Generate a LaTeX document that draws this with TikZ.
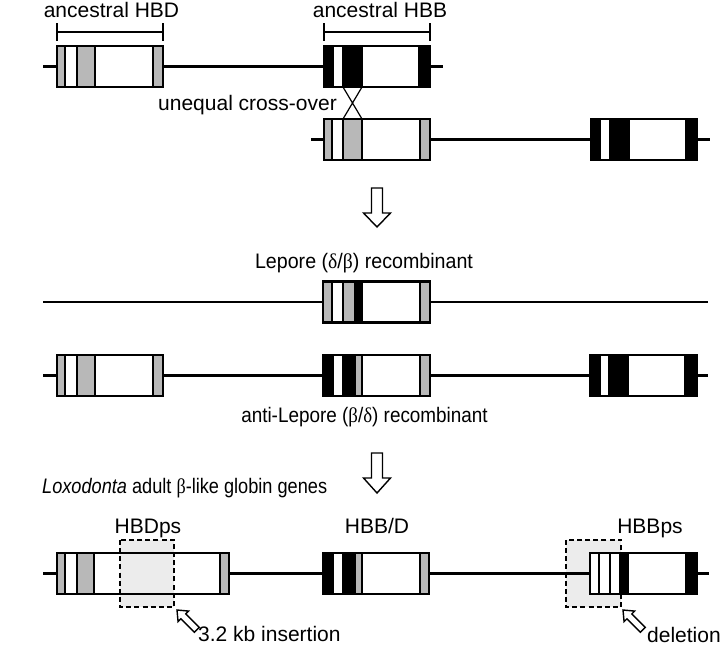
\documentclass[tikz,border=0pt]{standalone}
\usepackage{graphicx}
\usepackage{fontspec}
\setmainfont{Liberation Sans}
\newfontfamily\grk{Liberation Serif}
\definecolor{gr}{gray}{0.72}
\definecolor{lgr}{gray}{0.925}
\newcommand\rt{0}
\newcommand\rb{0}
\newcommand\setrow[1]{\renewcommand\rt{#1-20.5}\renewcommand\rb{#1+20.5}}
\newcommand\sg[3]{\filldraw[segline,fill=#3] (#1,\rt) rectangle (#2,\rb);}
\newcommand\lfont{\fontsize{21}{25}\selectfont}
\begin{document}
\begin{tikzpicture}[x=1pt,y=-1pt,
  segline/.style={draw=black,line width=1.2pt},
  genebox/.style={draw,line width=2.5pt,inner sep=0,minimum height=41pt,rectangle},
  wire/.style={line width=2.7pt},
  lbl/.style={inner sep=0,font=\lfont},
  hollow/.style={draw,fill=white,line width=1.4pt,line join=miter},
  dashbox/.style={draw=none,fill=lgr,inner sep=0,rectangle},
  dashedge/.style={line width=1.8pt,dash pattern=on 5pt off 3.2pt}]
\useasboundingbox (0,0) rectangle (720,645);

% dashed region fills
\node[dashbox,minimum width=54pt,minimum height=67pt] (ins) at (147,573.5) {};
\node[dashbox,minimum width=55pt,minimum height=67pt] (del) at (593.5,573.5) {};

% ---- segments ----
\setrow{66.5}
\sg{57}{65}{gr}\sg{65}{77}{white}\sg{77}{95}{gr}\sg{95}{153}{white}\sg{153}{163}{gr}
\sg{324}{333}{black}\sg{333}{343}{white}\sg{343}{362}{black}\sg{362}{419}{white}\sg{419}{430}{black}
\setrow{139.5}
\sg{324}{332}{gr}\sg{332}{343}{white}\sg{343}{362}{gr}\sg{362}{420}{white}\sg{420}{430}{gr}
\sg{591}{600}{black}\sg{600}{610}{white}\sg{610}{629}{black}\sg{629}{686}{white}\sg{686}{697}{black}
\setrow{302}
\sg{323}{332}{gr}\sg{332}{343}{white}\sg{343}{355}{gr}\sg{355}{362}{black}\sg{362}{420}{white}\sg{420}{430}{gr}
\setrow{375.5}
\sg{57}{65}{gr}\sg{65}{77}{white}\sg{77}{95}{gr}\sg{95}{153}{white}\sg{153}{163}{gr}
\sg{323}{333}{black}\sg{333}{343}{white}\sg{343}{355}{black}\sg{355}{362}{gr}\sg{362}{420}{white}\sg{420}{430}{gr}
\sg{590}{600}{black}\sg{600}{609}{white}\sg{609}{628}{black}\sg{628}{685}{white}\sg{685}{697}{black}
\setrow{573.5}
\sg{57}{65}{gr}\sg{65}{77}{white}\sg{77}{94}{gr}\sg{94}{220}{white}\sg{220}{229}{gr}
\fill[lgr] (120,\rt) rectangle (174,\rb);
\sg{323}{333}{black}\sg{333}{343}{white}\sg{343}{355}{black}\sg{355}{362}{gr}\sg{362}{420}{white}\sg{420}{429}{gr}
\sg{590}{599}{white}\sg{599}{610}{white}\sg{610}{620}{white}\sg{620}{628}{black}\sg{628}{686}{white}\sg{686}{697}{black}

% ---- gene outlines ----
\node[genebox,minimum width=106pt] (hbd1) at (110,66.5) {};
\node[genebox,minimum width=106pt] (hbb1) at (377,66.5) {};
\node[genebox,minimum width=106pt] (hbd2) at (377,139.5) {};
\node[genebox,minimum width=106pt] (hbb2) at (644,139.5) {};
\node[genebox,minimum width=107pt] (lep) at (376.5,302) {};
\node[genebox,minimum width=106pt] (hbd4) at (110,375.5) {};
\node[genebox,minimum width=107pt] (alep) at (376.5,375.5) {};
\node[genebox,minimum width=107pt] (hbb4) at (643.5,375.5) {};
\node[genebox,minimum width=172pt] (hbdps) at (143,573.5) {};
\node[genebox,minimum width=106pt] (hbbd) at (376,573.5) {};
\node[genebox,minimum width=107pt] (hbbps) at (643.5,573.5) {};

\coordinate (r1s) at (43,66.5);  \coordinate (r1e) at (443,66.5);
\coordinate (r2s) at (311,139.5); \coordinate (r2e) at (710,139.5);
\coordinate (r3s) at (43,302);   \coordinate (r3e) at (708,302);
\coordinate (r4s) at (43,375.5); \coordinate (r4e) at (708,375.5);
\coordinate (r5s) at (43,573.5); \coordinate (r5e) at (709,573.5);

\draw[wire] (r1s) -- (hbd1.west) (hbd1.east) -- (hbb1.west) (hbb1.east) -- (r1e);
\draw[wire] (r2s) -- (hbd2.west) (hbd2.east) -- (hbb2.west) (hbb2.east) -- (r2e);
\draw[wire] (r3s) -- (lep.west) (lep.east) -- (r3e);
\draw[wire] (r4s) -- (hbd4.west) (hbd4.east) -- (alep.west) (alep.east) -- (hbb4.west) (hbb4.east) -- (r4e);
\draw[wire] (r5s) -- (hbdps.west) (hbdps.east) -- (hbbd.west) (hbbd.east) -- (hbbps.west) (hbbps.east) -- (r5e);

% ---- brackets ----
\draw[line width=2pt] (57,23) -- (57,41) (57,32) -- (163,32) (163,23) -- (163,41);
\draw[line width=2pt] (324,23) -- (324,41) (324,32) -- (430,32) (430,23) -- (430,41);

% ---- cross-over ----
\draw[line width=1.2pt] (343,87) -- (362,119) (362,87) -- (343,119);

% ---- block arrows ----
\draw[hollow] (371.5,188) -- (382.5,188) -- (382.5,213) -- (390.5,213) -- (377,227) -- (363.5,213) -- (371.5,213) -- cycle;
\draw[hollow] (371.5,453) -- (382.5,453) -- (382.5,478) -- (390.5,478) -- (377,493) -- (363.5,478) -- (371.5,478) -- cycle;
\begin{scope}[shift={(177,610)},rotate=-45]
\draw[hollow] (0,0) -- (9,-7.5) -- (9,-3.5) -- (28,-3.5) -- (28,3.5) -- (9,3.5) -- (9,7.5) -- cycle;
\end{scope}
\begin{scope}[shift={(623,610)},rotate=-45]
\draw[hollow] (0,0) -- (9,-7.5) -- (9,-3.5) -- (28,-3.5) -- (28,3.5) -- (9,3.5) -- (9,7.5) -- cycle;
\end{scope}

% ---- dashed edges ----
\draw[dashedge] (ins.north west) rectangle (ins.south east);
\draw[dashedge] (del.north west) rectangle (del.south east);

% ---- labels ----
\node[lbl,anchor=base] (t1) at (111.5,17) {ancestral HBD};
\node[lbl,anchor=base] (t2) at (380,17) {ancestral HBB};
\node[lbl,anchor=base east] (t3) at (337,110) {unequal cross-over};
\node[lbl,anchor=base] (t4) at (364,268) {\scalebox{0.935}[1]{Lepore ({\grk δ}/{\grk β}) recombinant}};
\node[lbl,anchor=base] (t5) at (364.5,422) {\scalebox{0.9}[1]{anti-Lepore ({\grk β}/{\grk δ}) recombinant}};
\node[lbl,anchor=base west] (t6) at (42,493) {\scalebox{0.865}[1]{\itshape Loxodonta\upshape{} adult {\grk β}-like globin genes}};
\node[lbl,anchor=base] (t7) at (148,533) {HBDps};
\node[lbl,anchor=base] (t8) at (377,533) {HBB/D};
\node[lbl,anchor=base] (t9) at (650,533) {HBBps};
\node[lbl,anchor=base west] (t10) at (198,641) {3.2 kb insertion};
\node[lbl,anchor=base west] (t11) at (647,642) {deletion};
\end{tikzpicture}
\end{document}
